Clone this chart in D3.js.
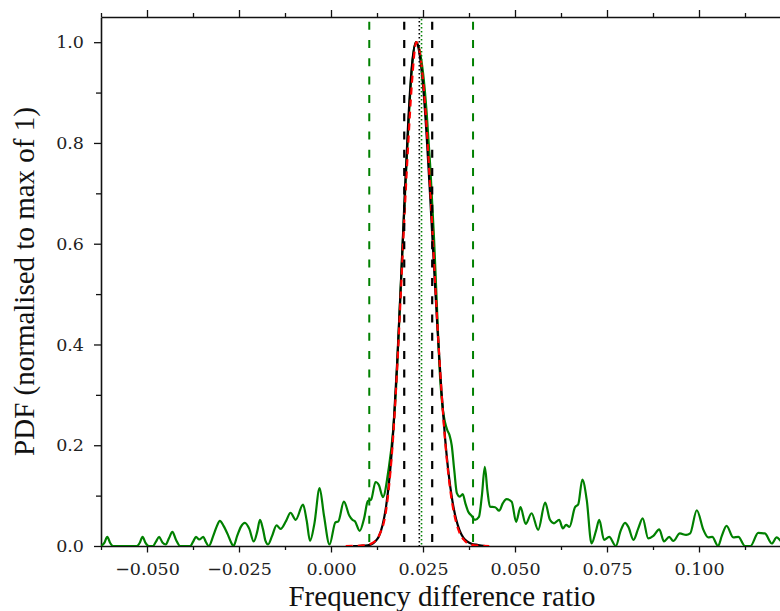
<!DOCTYPE html>
<meta charset="utf-8">
<script src="https://d3js.org/d3.v7.min.js"></script>
<style>
  body { margin: 0; background: #fff; }
  .domain { stroke: #111; stroke-width: 1.6px; }
  .tick line { stroke: #111; stroke-width: 1.3px; }
</style>
<div id="chart"></div>
<script>
  // green: full KDE of the ratio (noisy tails)
  var kdeX = [-0.0625, -0.0616, -0.0608, -0.0600, -0.0592, -0.0528, -0.0520, -0.0512, -0.0504, -0.0495,
    -0.0484, -0.0476, -0.0467, -0.0458, -0.0449, -0.0440, -0.0431, -0.0421, -0.0410,
    -0.0383, -0.0375, -0.0367, -0.0358, -0.0347, -0.0340, -0.0332,
    -0.0320, -0.0311, -0.0302, -0.0292, -0.0280, -0.0272, -0.0265,
    -0.0255, -0.0245, -0.0234, -0.0222, -0.0210, -0.0200, -0.0193, -0.0185, -0.0178, -0.0171,
    -0.0160, -0.0148, -0.0137, -0.0122, -0.0110, -0.0096, -0.0076, -0.0066, -0.0057, -0.0045,
    -0.0031, -0.0019, -0.0004, 0.0012, 0.0020, 0.0035, 0.0050, 0.0058, 0.0065, 0.0078,
    0.0090, 0.0100, 0.0109, 0.0121, 0.0130, 0.0141, 0.0156, 0.0169, 0.0178, 0.0188,
    0.0200, 0.0210, 0.0220, 0.0231, 0.0240, 0.0250, 0.0260, 0.0270, 0.0280, 0.0287,
    0.0296, 0.0304, 0.0310, 0.0316, 0.0322, 0.0328, 0.0335, 0.0342, 0.0350, 0.0358,
    0.0365, 0.0373, 0.0382, 0.0391, 0.0402, 0.0410, 0.0418, 0.0425, 0.0432, 0.0446,
    0.0457, 0.0467, 0.0477, 0.0491, 0.0503, 0.0515, 0.0529, 0.0545, 0.0563, 0.0582,
    0.0595, 0.0606, 0.0620, 0.0630, 0.0639, 0.0648, 0.0663, 0.0672, 0.0683, 0.0695,
    0.0708, 0.0720, 0.0729, 0.0742, 0.0756, 0.0774, 0.0787, 0.0799, 0.0808, 0.0822,
    0.0835, 0.0847, 0.0862, 0.0876, 0.0892, 0.0905, 0.0919, 0.0930, 0.0948, 0.0965,
    0.0976, 0.0994, 0.1012, 0.1025, 0.1036, 0.1052, 0.1062, 0.1075, 0.1093, 0.1107,
    0.1125, 0.1140, 0.1161, 0.1179, 0.1198, 0.1211, 0.1225, 0.1240];
  var kdeY = [0, 0.006, 0.018, 0.006, 0, 0, 0.006, 0.018, 0.006, 0,
    0, 0.008, 0.018, 0.007, 0.003, 0.016, 0.028, 0.012, 0,
    0, 0.008, 0.018, 0.013, 0.018, 0.008, 0,
    0.020, 0.038, 0.050, 0.040, 0.022, 0.008, 0,
    0.020, 0.038, 0.046, 0.034, 0.009, 0.030, 0.052, 0.034, 0.010, 0.003,
    0.020, 0.041, 0.034, 0.050, 0.066, 0.052, 0.082, 0.050, 0.010, 0.045,
    0.115, 0.060, 0.003, 0.047, 0.049, 0.088, 0.060, 0.052, 0.049, 0.030,
    0.055, 0.089, 0.092, 0.127, 0.121, 0.097, 0.150, 0.230, 0.330, 0.490,
    0.680, 0.830, 0.950, 1.000, 0.985, 0.940, 0.860, 0.750, 0.610, 0.490,
    0.340, 0.270, 0.245, 0.230, 0.220, 0.200, 0.150, 0.105, 0.098, 0.103,
    0.085, 0.068, 0.060, 0.052, 0.058, 0.100, 0.157, 0.110, 0.078, 0.077,
    0.070, 0.085, 0.093, 0.088, 0.048, 0.077, 0.044, 0.065, 0.032, 0.086,
    0.052, 0.045, 0.052, 0.035, 0.042, 0.038, 0.077, 0.083, 0.132, 0.091,
    0.005, 0.030, 0.052, 0.012, 0.018, 0, 0.030, 0.046, 0.038, 0.012,
    0.035, 0.055, 0.015, 0.020, 0.033, 0.009, 0.018, 0.010, 0.025, 0.022,
    0.025, 0.071, 0.032, 0.017, 0.018, 0, 0.020, 0.040, 0.017, 0.018,
    0, 0, 0.026, 0.025, 0.005, 0.017, 0.008, 0.004];

  // black: KDE of the selected sample
  var selX = [0.0060, 0.0080, 0.0100, 0.0110, 0.0120, 0.0130, 0.0140, 0.0150, 0.0160, 0.0170,
    0.0180, 0.0190, 0.0200, 0.0210, 0.0220, 0.0231, 0.0240, 0.0250, 0.0260, 0.0270,
    0.0280, 0.0290, 0.0300, 0.0310, 0.0320, 0.0330, 0.0340, 0.0350, 0.0360, 0.0370,
    0.0380, 0.0400, 0.0420];
  var selY = [0, 0.0005, 0.0015, 0.0035, 0.009, 0.019, 0.041, 0.080, 0.143, 0.238,
    0.367, 0.523, 0.690, 0.844, 0.954, 1.000, 0.980, 0.915, 0.813, 0.687,
    0.552, 0.423, 0.309, 0.214, 0.141, 0.089, 0.053, 0.030, 0.016, 0.009,
    0.005, 0.002, 0];

  // red: gaussian fit
  var fitX = [0.0040, 0.0070, 0.0090, 0.0110, 0.0130, 0.0150, 0.0160, 0.0170, 0.0180, 0.0190,
    0.0200, 0.0210, 0.0220, 0.0232, 0.0240, 0.0250, 0.0260, 0.0270, 0.0280, 0.0290,
    0.0300, 0.0310, 0.0320, 0.0330, 0.0340, 0.0350, 0.0360, 0.0380, 0.0400, 0.0430];
  var fitY = [0, 0.0003, 0.0015, 0.005, 0.020, 0.072, 0.135, 0.228, 0.355, 0.505,
    0.660, 0.800, 0.920, 1.000, 0.985, 0.925, 0.830, 0.705, 0.565, 0.430,
    0.310, 0.210, 0.135, 0.082, 0.047, 0.025, 0.013, 0.003, 0.0006, 0];

  // vertical markers
  var greenDashed = [0.0104, 0.0386];
  var blackDashed = [0.0199, 0.0275];
  var blackDotted = [0.0240];
  var greenDotted = [0.0246];

  var xMajor = [-0.050, -0.025, 0.000, 0.025, 0.050, 0.075, 0.100];
  var xMinor = [-0.0625, -0.0375, -0.0125, 0.0125, 0.0375, 0.0625, 0.0875, 0.1125];
  var yMajor = [0.0, 0.2, 0.4, 0.6, 0.8, 1.0];
  var yMinor = [0.1, 0.3, 0.5, 0.7, 0.9];

  var width = 780, height = 611;
  var pL = 101, pR = 791, pT = 17, pB = 546;

  var svg = d3.select("#chart").append("svg")
    .attr("width", width)
    .attr("height", height);

  var x = d3.scaleLinear().domain([-0.0625, 0.125]).range([pL, pR]);
  var y = d3.scaleLinear().domain([0, 1.05]).range([pB, pT]);

  svg.append("clipPath").attr("id", "plotclip")
    .append("rect").attr("x", pL).attr("y", pT - 1)
    .attr("width", pR - pL).attr("height", pB - pT + 1);

  var fmtX = function (d) { return d3.format(".3f")(d).replace("-", "\u2212"); };
  var tickFont = function (g) {
    g.selectAll("text")
      .style("font-size", "17.5px")
      .style("font-family", "'DejaVu Serif', serif")
      .style("fill", "#222");
  };

  // axes
  svg.append("g").attr("transform", "translate(0," + pB + ")")
    .call(d3.axisBottom(x).tickValues(xMajor).tickSize(6.5).tickSizeOuter(0).tickPadding(10).tickFormat(fmtX))
    .call(tickFont);
  svg.append("g").attr("transform", "translate(0," + pB + ")")
    .call(d3.axisBottom(x).tickValues(xMinor).tickSize(4).tickSizeOuter(0).tickFormat(""))
    .call(function (g) { g.select(".domain").remove(); });

  svg.append("g").attr("transform", "translate(0," + pT + ")")
    .call(d3.axisTop(x).tickValues(xMajor).tickSize(7).tickSizeOuter(0).tickFormat(""));
  svg.append("g").attr("transform", "translate(0," + pT + ")")
    .call(d3.axisTop(x).tickValues(xMinor).tickSize(4).tickSizeOuter(0).tickFormat(""))
    .call(function (g) { g.select(".domain").remove(); });

  svg.append("g").attr("transform", "translate(" + pL + ",0)")
    .call(d3.axisLeft(y).tickValues(yMajor).tickSize(7).tickSizeOuter(0).tickPadding(10).tickFormat(d3.format(".1f")))
    .call(tickFont);
  svg.append("g").attr("transform", "translate(" + pL + ",0)")
    .call(d3.axisLeft(y).tickValues(yMinor).tickSize(5).tickSizeOuter(0).tickFormat(""))
    .call(function (g) { g.select(".domain").remove(); });

  // curves
  var plot = svg.append("g").attr("clip-path", "url(#plotclip)");

  function drawCurve(xs, ys, color, dash) {
    var pts = xs.map(function (d, i) { return [d, ys[i]]; });
    var line = d3.line()
      .x(function (d) { return x(d[0]); })
      .y(function (d) { return y(d[1]); })
      .curve(d3.curveMonotoneX);
    plot.append("path").datum(pts)
      .attr("d", line)
      .attr("fill", "none")
      .attr("stroke", color)
      .attr("stroke-width", 2.2)
      .attr("stroke-linejoin", "round")
      .attr("stroke-dasharray", dash);
  }

  drawCurve(kdeX, kdeY, "#008000", null);
  drawCurve(selX, selY, "#000000", null);
  drawCurve(fitX, fitY, "#ff0000", "7,5");

  function vlines(vals, color, dash, w, offset) {
    plot.selectAll(null).data(vals).enter().append("line")
      .attr("x1", function (d) { return x(d); })
      .attr("x2", function (d) { return x(d); })
      .attr("y1", pT).attr("y2", pB)
      .attr("stroke", color)
      .attr("stroke-width", w)
      .attr("stroke-dasharray", dash)
      .attr("stroke-dashoffset", offset);
  }

  vlines(greenDashed, "#008000", "8,10.3", 2, 13.6);
  vlines(blackDashed, "#000000", "8,10.3", 2.2, 13.6);
  vlines(blackDotted, "#000000", "1.4,2.6", 1.6, 0);
  vlines(greenDotted, "#008000", "1.4,2.6", 1.6, 2);

  // labels
  svg.append("text")
    .attr("x", 442)
    .attr("y", 606)
    .attr("text-anchor", "middle")
    .style("font-family", "'Liberation Serif', serif")
    .style("font-size", "29px")
    .style("fill", "#111")
    .text("Frequency difference ratio");

  svg.append("text")
    .attr("transform", "translate(33.5," + ((pT + pB) / 2) + ") rotate(-90)")
    .attr("text-anchor", "middle")
    .style("font-family", "'Liberation Serif', serif")
    .style("font-size", "29px")
    .style("fill", "#111")
    .text("PDF (normalised to max of 1)");
</script>
